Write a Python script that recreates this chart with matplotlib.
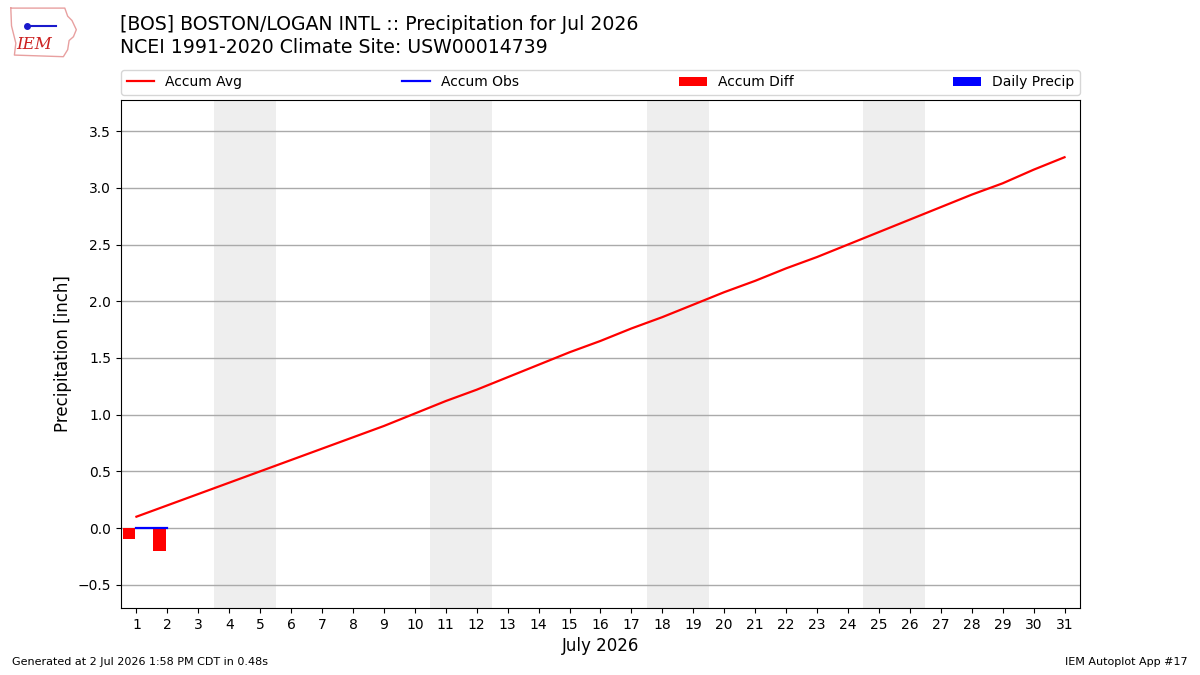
import matplotlib
matplotlib.use("Agg")
import matplotlib.pyplot as plt
import numpy as np

days = list(range(1, 32))
accum_avg = [0.10, 0.20, 0.30, 0.40, 0.50, 0.60, 0.70, 0.80, 0.90, 1.01,
             1.12, 1.22, 1.33, 1.44, 1.55, 1.65, 1.76, 1.86, 1.97, 2.08,
             2.18, 2.29, 2.39, 2.50, 2.61, 2.72, 2.83, 2.94, 3.04, 3.16, 3.27]
obs_days = [1, 2]
accum_obs = [0.0, 0.0]
accum_diff = [-0.10, -0.20]
daily_precip = [0.0, 0.0]
weekends = [(4, 5), (11, 12), (18, 19), (25, 26)]

fig = plt.figure(figsize=(12, 6.75), dpi=100)
ax = fig.add_axes([0.1008, 0.0993, 0.7992, 0.7526])

for start, end in weekends:
    ax.axvspan(start - 0.5, end + 0.5, color="#eeeeee", zorder=0, lw=0)

ax.plot(days, accum_avg, color="red", lw=1.6, label="Accum Avg", zorder=3)
ax.plot(obs_days, accum_obs, color="blue", lw=1.6, label="Accum Obs", zorder=3)
ax.bar(np.array(obs_days) - 0.45, accum_diff, width=0.4, align="edge",
       color="red", label="Accum Diff", zorder=2)
ax.bar(np.array(obs_days), daily_precip, width=0.4, align="edge",
       color="blue", label="Daily Precip", zorder=2)

ax.set_xlim(0.5, 31.5)
ax.set_ylim(-0.705, 3.775)
ax.set_xticks(days)
ax.set_yticks(np.arange(-0.5, 3.51, 0.5))
ax.grid(axis="y", color="#aaaaaa", lw=1)
ax.set_axisbelow(True)
ax.tick_params(labelsize=10)
ax.set_xlabel("July 2026", fontsize=12)
ax.set_ylabel("Precipitation [inch]", fontsize=12)

ax.legend(loc="lower left", bbox_to_anchor=(0, 1.01, 1, 0.05), mode="expand",
          ncol=4, fontsize=10, borderaxespad=0, handlelength=2.0)

fig.text(0.1, 0.963, "[BOS] BOSTON/LOGAN INTL :: Precipitation for Jul 2026",
         fontsize=13.6, va="center", ha="left")
fig.text(0.1, 0.929, "NCEI 1991-2020 Climate Site: USW00014739",
         fontsize=13.6, va="center", ha="left")

# little logo: state outline with the IEM letters
logo = fig.add_axes([0.006, 0.912, 0.060, 0.08])
logo.axis("off")
logo.set_xlim(0, 1)
logo.set_ylim(0, 1)
outline_x = [0.05, 0.80, 0.84, 0.90, 0.96, 0.92, 0.86, 0.84, 0.78, 0.10, 0.12, 0.06, 0.05]
outline_y = [0.95, 0.95, 0.80, 0.72, 0.55, 0.42, 0.35, 0.18, 0.05, 0.08, 0.30, 0.62, 0.95]
logo.plot(outline_x, outline_y, color="#e8a0a0", lw=1)
logo.plot([0.28, 0.68], [0.62, 0.62], color="#1a1acc", lw=1.5)
logo.plot([0.28], [0.62], "o", color="#1a1acc", ms=4)
logo.text(0.38, 0.27, "IEM", color="#cc2222", fontsize=12, style="italic",
          family="DejaVu Serif", ha="center", va="center")

fig.text(0.01, 0.015, "Generated at 2 Jul 2026 1:58 PM CDT in 0.48s", fontsize=8)
fig.text(0.99, 0.015, "IEM Autoplot App #17", fontsize=8, ha="right")

fig.savefig("out.png", dpi=100)
